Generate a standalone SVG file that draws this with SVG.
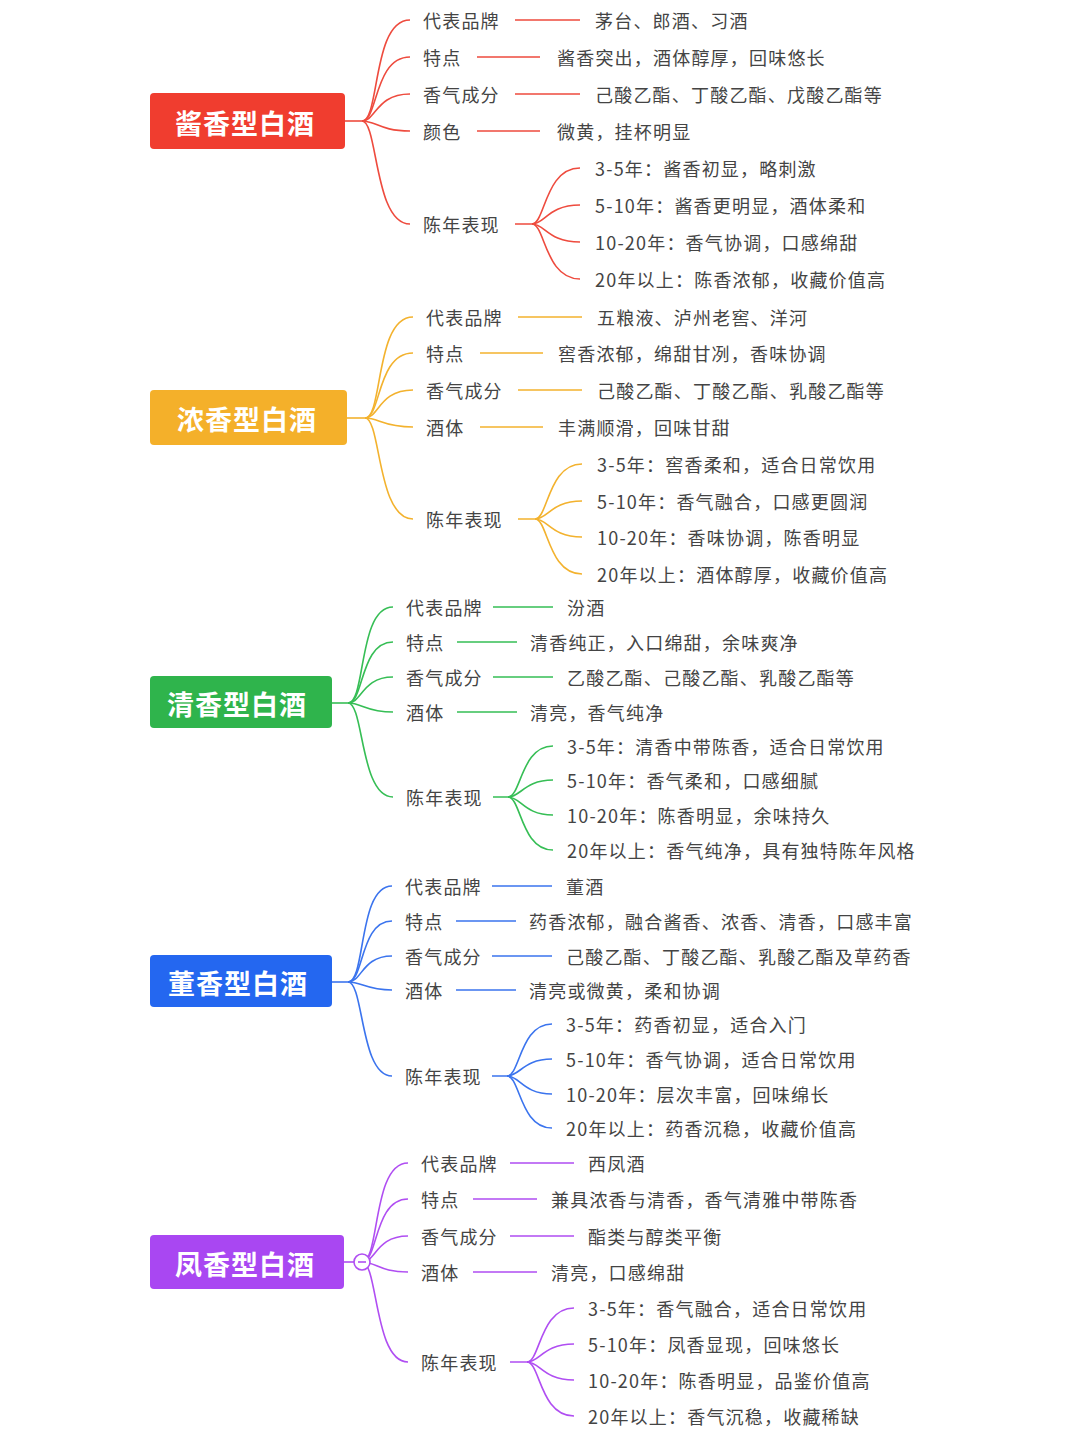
<svg xmlns="http://www.w3.org/2000/svg" width="1080" height="1440" viewBox="0 0 1080 1440">
<style>
text{font-family:"Noto Sans CJK SC","Noto Sans",sans-serif;}
.t{font-size:18px;letter-spacing:1.2px;fill:#444;dominant-baseline:central;}
.r{font-size:27px;letter-spacing:1px;font-weight:bold;fill:#fff;text-anchor:middle;dominant-baseline:central;}
path,line{fill:none;stroke-width:1.6;}
.c1{stroke:#EE4B3E}.c2{stroke:#F3B22E}.c3{stroke:#36BE55}.c4{stroke:#3B74EE}.c5{stroke:#B04EF2}
</style>
<rect width="1080" height="1440" fill="#fff"/>
<g id="connectors">
<g class="c1">
<path d="M345 121H362"/>
<path d="M362 121C380 121 372 20 410 20"/><path d="M362 121C378 121 374 57 410 57"/><path d="M362 121C376 121 376 94 410 94"/><path d="M362 121C376 121 380 131 410 131"/><path d="M362 121C378 121 374 224 410 224"/>
<path d="M515 20H580M477 57H540M515 94H580M477 131H540M515 224H532"/>
<path d="M532 224C545 224 545 168 580 168"/><path d="M532 224C545 224 548 205 580 205"/><path d="M532 224C545 224 548 242 580 242"/><path d="M532 224C545 224 545 279 580 279"/>
</g>
<g class="c2">
<path d="M347 418H365"/>
<path d="M365 418C383 418 375 317 413 317"/><path d="M365 418C381 418 377 353 413 353"/><path d="M365 418C379 418 379 390 413 390"/><path d="M365 418C379 418 383 427 413 427"/><path d="M365 418C381 418 377 519 413 519"/>
<path d="M518 317H582M480 353H543M518 390H582M480 427H543M518 519H535"/>
<path d="M535 519C548 519 548 464 582 464"/><path d="M535 519C548 519 551 501 582 501"/><path d="M535 519C548 519 551 537 582 537"/><path d="M535 519C548 519 548 574 582 574"/>
</g>
<g class="c3">
<path d="M332 703H348"/>
<path d="M348 703C366 703 358 607 393 607"/><path d="M348 703C364 703 360 642 393 642"/><path d="M348 703C362 703 362 677 393 677"/><path d="M348 703C362 703 366 712 393 712"/><path d="M348 703C364 703 360 797 393 797"/>
<path d="M493 607H553M457 642H517M493 677H553M457 712H517M493 797H508"/>
<path d="M508 797C521 797 521 746 553 746"/><path d="M508 797C521 797 524 780 553 780"/><path d="M508 797C521 797 524 815 553 815"/><path d="M508 797C521 797 521 850 553 850"/>
</g>
<g class="c4">
<path d="M332 982H348"/>
<path d="M348 982C366 982 358 886 392 886"/><path d="M348 982C364 982 360 921 392 921"/><path d="M348 982C362 982 362 956 392 956"/><path d="M348 982C362 982 366 990 392 990"/><path d="M348 982C364 982 360 1076 392 1076"/>
<path d="M492 886H552M456 921H516M492 956H552M456 990H516M492 1076H507"/>
<path d="M507 1076C520 1076 520 1024 552 1024"/><path d="M507 1076C520 1076 523 1059 552 1059"/><path d="M507 1076C520 1076 523 1094 552 1094"/><path d="M507 1076C520 1076 520 1128 552 1128"/>
</g>
<g class="c5">
<path d="M344 1262H354"/>
<path d="M362 1262C380 1262 372 1163 408 1163"/><path d="M362 1262C378 1262 374 1199 408 1199"/><path d="M362 1262C376 1262 376 1236 408 1236"/><path d="M362 1262C376 1262 380 1272 408 1272"/><path d="M362 1262C378 1262 374 1362 408 1362"/>
<path d="M510 1163H574M473 1199H537M510 1236H574M473 1272H537M510 1362H527"/>
<path d="M527 1362C540 1362 540 1308 574 1308"/><path d="M527 1362C540 1362 543 1344 574 1344"/><path d="M527 1362C540 1362 543 1380 574 1380"/><path d="M527 1362C540 1362 540 1416 574 1416"/>
<circle cx="362" cy="1262" r="8" fill="#fff" stroke="#B04EF2" stroke-width="1.6"/>
<line x1="358" y1="1262" x2="366" y2="1262" stroke="#B04EF2"/>
</g>
</g>
<g id="n1">
<rect x="150" y="93" width="195" height="56" rx="4" fill="#F03D2F"/><text class="r" x="245" y="122">酱香型白酒</text>
<text class="t" x="423" y="20">代表品牌</text><text class="t" x="595" y="20">茅台、郎酒、习酒</text>
<text class="t" x="423" y="57">特点</text><text class="t" x="557" y="57">酱香突出，酒体醇厚，回味悠长</text>
<text class="t" x="423" y="94">香气成分</text><text class="t" x="595" y="94">己酸乙酯、丁酸乙酯、戊酸乙酯等</text>
<text class="t" x="423" y="131">颜色</text><text class="t" x="557" y="131">微黄，挂杯明显</text>
<text class="t" x="423" y="224">陈年表现</text>
<text class="t" x="595" y="168">3-5年：酱香初显，略刺激</text>
<text class="t" x="595" y="205">5-10年：酱香更明显，酒体柔和</text>
<text class="t" x="595" y="242">10-20年：香气协调，口感绵甜</text>
<text class="t" x="595" y="279">20年以上：陈香浓郁，收藏价值高</text>
</g>
<g id="n2">
<rect x="150" y="390" width="197" height="55" rx="4" fill="#F4B02A"/><text class="r" x="247" y="418">浓香型白酒</text>
<text class="t" x="426" y="317">代表品牌</text><text class="t" x="597" y="317">五粮液、泸州老窖、洋河</text>
<text class="t" x="426" y="353">特点</text><text class="t" x="558" y="353">窖香浓郁，绵甜甘冽，香味协调</text>
<text class="t" x="426" y="390">香气成分</text><text class="t" x="597" y="390">己酸乙酯、丁酸乙酯、乳酸乙酯等</text>
<text class="t" x="426" y="427">酒体</text><text class="t" x="558" y="427">丰满顺滑，回味甘甜</text>
<text class="t" x="426" y="519">陈年表现</text>
<text class="t" x="597" y="464">3-5年：窖香柔和，适合日常饮用</text>
<text class="t" x="597" y="501">5-10年：香气融合，口感更圆润</text>
<text class="t" x="597" y="537">10-20年：香味协调，陈香明显</text>
<text class="t" x="597" y="574">20年以上：酒体醇厚，收藏价值高</text>
</g>
<g id="n3">
<rect x="150" y="676" width="182" height="52" rx="4" fill="#2FB44C"/><text class="r" x="237" y="703">清香型白酒</text>
<text class="t" x="406" y="607">代表品牌</text><text class="t" x="567" y="607">汾酒</text>
<text class="t" x="406" y="642">特点</text><text class="t" x="530" y="642">清香纯正，入口绵甜，余味爽净</text>
<text class="t" x="406" y="677">香气成分</text><text class="t" x="567" y="677">乙酸乙酯、己酸乙酯、乳酸乙酯等</text>
<text class="t" x="406" y="712">酒体</text><text class="t" x="530" y="712">清亮，香气纯净</text>
<text class="t" x="406" y="797">陈年表现</text>
<text class="t" x="567" y="746">3-5年：清香中带陈香，适合日常饮用</text>
<text class="t" x="567" y="780">5-10年：香气柔和，口感细腻</text>
<text class="t" x="567" y="815">10-20年：陈香明显，余味持久</text>
<text class="t" x="567" y="850">20年以上：香气纯净，具有独特陈年风格</text>
</g>
<g id="n4">
<rect x="150" y="955" width="182" height="52" rx="4" fill="#2467F0"/><text class="r" x="238" y="982">董香型白酒</text>
<text class="t" x="405" y="886">代表品牌</text><text class="t" x="566" y="886">董酒</text>
<text class="t" x="405" y="921">特点</text><text class="t" x="529" y="921">药香浓郁，融合酱香、浓香、清香，口感丰富</text>
<text class="t" x="405" y="956">香气成分</text><text class="t" x="566" y="956">己酸乙酯、丁酸乙酯、乳酸乙酯及草药香</text>
<text class="t" x="405" y="990">酒体</text><text class="t" x="529" y="990">清亮或微黄，柔和协调</text>
<text class="t" x="405" y="1076">陈年表现</text>
<text class="t" x="566" y="1024">3-5年：药香初显，适合入门</text>
<text class="t" x="566" y="1059">5-10年：香气协调，适合日常饮用</text>
<text class="t" x="566" y="1094">10-20年：层次丰富，回味绵长</text>
<text class="t" x="566" y="1128">20年以上：药香沉稳，收藏价值高</text>
</g>
<g id="n5">
<rect x="150" y="1235" width="194" height="54" rx="4" fill="#A947F2"/><text class="r" x="245" y="1263">凤香型白酒</text>
<text class="t" x="421" y="1163">代表品牌</text><text class="t" x="588" y="1163">西凤酒</text>
<text class="t" x="421" y="1199">特点</text><text class="t" x="551" y="1199">兼具浓香与清香，香气清雅中带陈香</text>
<text class="t" x="421" y="1236">香气成分</text><text class="t" x="588" y="1236">酯类与醇类平衡</text>
<text class="t" x="421" y="1272">酒体</text><text class="t" x="551" y="1272">清亮，口感绵甜</text>
<text class="t" x="421" y="1362">陈年表现</text>
<text class="t" x="588" y="1308">3-5年：香气融合，适合日常饮用</text>
<text class="t" x="588" y="1344">5-10年：凤香显现，回味悠长</text>
<text class="t" x="588" y="1380">10-20年：陈香明显，品鉴价值高</text>
<text class="t" x="588" y="1416">20年以上：香气沉稳，收藏稀缺</text>
</g>
</svg>
